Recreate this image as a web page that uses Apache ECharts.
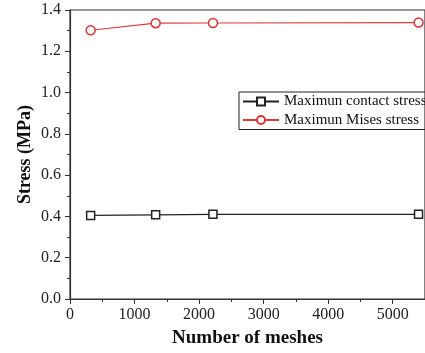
<!DOCTYPE html>
<html><head><meta charset="utf-8">
<script src="https://cdn.jsdelivr.net/npm/echarts@6/dist/echarts.min.js"></script>
<style>html,body{margin:0;padding:0;background:#fff}#c{width:425px;height:353px}</style>
</head><body><div id="c"></div>
<script>
const meshes = [320, 1327, 2215, 5400];
const contactStress = [0.405, 0.408, 0.410, 0.410];
const misesStress = [1.302, 1.336, 1.337, 1.339];
const seriesNames = ['Maximun contact stress', 'Maximun Mises stress'];
const xTitle = 'Number of meshes';
const yTitle = 'Stress (MPa)';

const font = 'Liberation Serif';
const chart = echarts.init(document.getElementById('c'), null, {renderer: 'canvas'});
const pair = (xs, ys) => xs.map((x, i) => [x, ys[i]]);
chart.setOption({
  animation: false,
  backgroundColor: '#fff',
  grid: {left: 70, top: 10, width: 359, height: 289, show: true, borderColor: '#333', borderWidth: 1.2},
  legend: {
    orient: 'vertical', left: 239, top: 92,
    padding: [2, 40, 2, 3], itemGap: 3.5,
    borderColor: '#222', borderWidth: 1,
    itemWidth: 36, itemHeight: 10,
    textStyle: {fontFamily: font, fontSize: 15, color: '#111', lineHeight: 15},
    data: seriesNames
  },
  xAxis: {
    type: 'value', min: 0, max: 5500, interval: 1000,
    name: xTitle, nameLocation: 'middle', nameGap: 30, nameMoveOverlap: false,
    nameTextStyle: {fontFamily: font, fontSize: 19, fontWeight: 'bold', color: '#111'},
    axisLine: {lineStyle: {color: '#333', width: 1.2}},
    axisTick: {inside: false, length: 5, lineStyle: {color: '#333'}},
    minorTick: {show: true, splitNumber: 2, length: 3, lineStyle: {color: '#333'}},
    splitLine: {show: false},
    axisLabel: {fontFamily: font, fontSize: 16, color: '#222', margin: 8, showMaxLabel: false, formatter: v => String(v)}
  },
  yAxis: {
    type: 'value', min: 0, max: 1.4, interval: 0.2,
    name: yTitle, nameLocation: 'middle', nameGap: 36, nameRotate: 90, nameMoveOverlap: false,
    nameTextStyle: {fontFamily: font, fontSize: 18, fontWeight: 'bold', color: '#111'},
    axisLine: {show: true, lineStyle: {color: '#333', width: 1.2}},
    axisTick: {show: true, inside: false, length: 5, lineStyle: {color: '#333'}},
    minorTick: {show: true, splitNumber: 2, length: 3, lineStyle: {color: '#333'}},
    splitLine: {show: false},
    axisLabel: {fontFamily: font, fontSize: 16, color: '#222', margin: 9, formatter: v => v.toFixed(1)}
  },
  series: [
    {
      name: seriesNames[0], type: 'line', data: pair(meshes, contactStress),
      symbol: 'rect', symbolSize: 8, showAllSymbol: true,
      lineStyle: {color: '#222', width: 1.2},
      itemStyle: {color: '#fff', borderColor: '#222', borderWidth: 1.5}
    },
    {
      name: seriesNames[1], type: 'line', data: pair(meshes, misesStress),
      symbol: 'circle', symbolSize: 9, showAllSymbol: true,
      lineStyle: {color: '#e03a3a', width: 1.2},
      itemStyle: {color: '#fff', borderColor: '#d93535', borderWidth: 1.5}
    }
  ]
});
</script></body></html>
